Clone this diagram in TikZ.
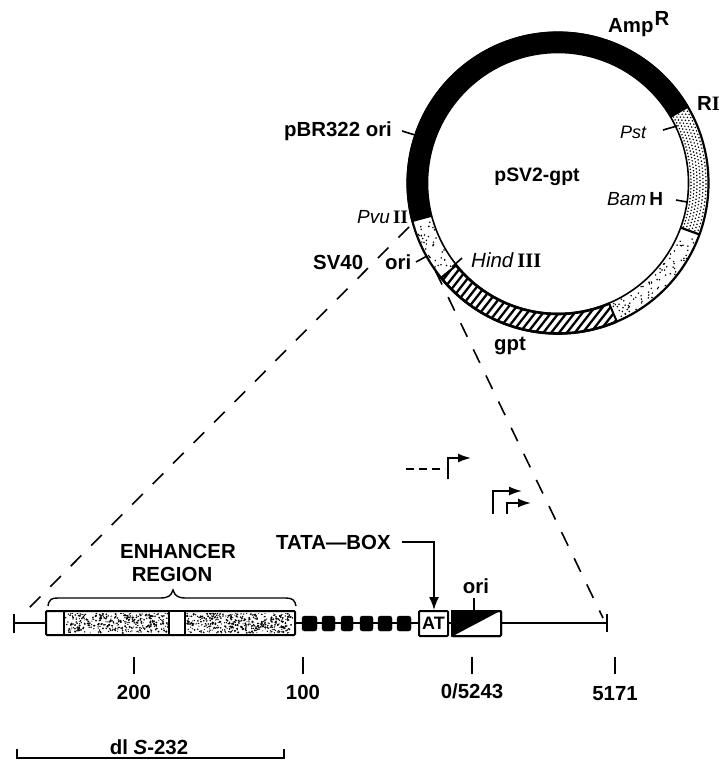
\documentclass[tikz,border=0pt]{standalone}
\usepackage{fontspec}
\setmainfont{Liberation Sans}
\newfontfamily\serf{Liberation Serif}
\usetikzlibrary{arrows.meta}
\tikzset{
  lab/.style={font=\bfseries\fontsize{20.4}{23}\selectfont,inner sep=0pt,text=black,align=center},
  ital/.style={font=\itshape\fontsize{18}{21}\selectfont,inner sep=0pt},
  tick/.style={line width=1.6pt},
  axis/.style={line width=1.8pt},
  dashline/.style={line width=1.6pt,dash pattern=on 15pt off 14pt},
  pbox/.style={draw,line width=2pt,fill=white,rounded corners=1pt},
  block/.style={fill=black,draw=black,rounded corners=2.5pt},
  promo/.style={line width=1.7pt,-{Latex[length=13pt,width=9pt]}}
}
\def\CX{558}\def\CY{183}
\newcommand{\secpath}[4]{plot[variable=\t,domain=#1:#2,samples=90] ({\CX+#4*cos(\t)},{\CY-#4*sin(\t)}) -- plot[variable=\t,domain=#2:#1,samples=90] ({\CX+#3*cos(\t)},{\CY-#3*sin(\t)}) -- cycle}
\newcommand{\randots}[6]{% a1 a2 r1 r2 count size
  \foreach \i in {1,...,#5}{
    \pgfmathsetmacro\aa{#1+rnd*(#2-#1)}
    \pgfmathsetmacro\rr{#3+rnd*(#4-#3)}
    \fill ({\CX+\rr*cos(\aa)},{\CY-\rr*sin(\aa)}) circle (#6);
  }}
\newcommand{\boxdots}[5]{% x1 x2 y1 y2 count
  \foreach \i in {1,...,#5}{
    \pgfmathsetmacro\xa{#1+rnd*(#2-#1)}
    \pgfmathsetmacro\ya{#3+rnd*(#4-#3)}
    \pgfmathsetmacro\sz{0.5+0.6*rnd}
    \fill (\xa,\ya) circle (\sz);
  }}
\begin{document}
\begin{tikzpicture}[x=1pt,y=-1pt]
\useasboundingbox (0,0) rectangle (722,763);
\pgfmathsetseed{7}
% plasmid ring
\draw[line width=2.2pt] (\CX,\CY) circle (150.5);
\draw[line width=1.6pt] (\CX,\CY) circle (130.5);
\fill \secpath{30}{195}{130.5}{151.5};
% regular stipple
\begin{scope}
\clip \secpath{-20}{30}{132}{150};
\foreach \a [count=\k] in {-20,-18.6,...,30}{
  \foreach \r [count=\j] in {133,136,...,150}{
    \pgfmathsetmacro\ab{\a+0.7*mod(\j,2)}
    \fill ({\CX+\r*cos(\ab)},{\CY-\r*sin(\ab)}) circle (0.85);
  }}
\end{scope}
% irregular stipple
\randots{-66}{-22}{132}{149}{80}{0.85}
\randots{197}{218}{132}{149}{38}{0.85}
% hatch: parallel strokes
\begin{scope}
\clip \secpath{219}{293}{131}{151};
\foreach \k in {-30,...,30}{
  \draw[line width=2.3pt] ({510+\k*6.2*0.788-120*0.616},{325+\k*6.2*0.616+120*0.788}) -- ++({240*0.616},{-240*0.788});
}
\end{scope}
\draw[line width=2.6pt] plot[variable=\t,domain=219:293,samples=60] ({\CX+150.5*cos(\t)},{\CY-150.5*sin(\t)});
\draw[line width=2.6pt] plot[variable=\t,domain=219:293,samples=60] ({\CX+131*cos(\t)},{\CY-131*sin(\t)});
\draw[line width=2.2pt] ({\CX+131*cos(-20)},{\CY-131*sin(-20)}) -- ({\CX+151*cos(-20)},{\CY-151*sin(-20)});
\draw[line width=2pt] ({\CX+131*cos(-67)},{\CY-131*sin(-67)}) -- ({\CX+151*cos(-67)},{\CY-151*sin(-67)});
\draw[line width=2pt] ({\CX+131*cos(219)},{\CY-131*sin(219)}) -- ({\CX+151*cos(219)},{\CY-151*sin(219)});

% plasmid labels
\node[lab,anchor=base west] (amp) at (608,32) {Amp\kern1pt\raisebox{7pt}{R}};
\node[lab,anchor=base west] (ri) at (697,110) {R{\serf I}};
\node[ital,anchor=base west] (pst) at (620,138) {Pst};
\node[lab,font=\bfseries\fontsize{19.4}{22}\selectfont] (psv) at (537,177) {pSV2-gpt};
\node[anchor=base west,inner sep=0pt,font=\fontsize{19}{21}\selectfont] (bam) at (607,205) {\textit{Bam}\,\textbf{H}};
\node[anchor=base west,inner sep=0pt,font=\fontsize{20.5}{21}\selectfont] (hind) at (471,267) {\textit{Hind}\,{\serf\bfseries III}};
\node[anchor=base west,inner sep=0pt,font=\fontsize{19}{21}\selectfont] (pvu) at (357,223) {\textit{Pvu}\,{\serf\bfseries II}};
\node[lab,anchor=base west] (pbr) at (284,136) {pBR322 ori};
\node[lab,anchor=base west] (sv40) at (313,269) {SV40};
\node[lab,anchor=base west] (ori1) at (385,269) {ori};
\node[lab] (gpt) at (510,346) {gpt};
\coordinate (tp1) at (663,130); \coordinate (tp2) at (677,126);
\coordinate (tb1) at (676,200); \coordinate (tb2) at (687,202);
\coordinate (th1) at (452,267); \coordinate (th2) at (462,258);
\coordinate (to1) at (416,262); \coordinate (to2) at (427,256);
\coordinate (tr1) at (402,131); \coordinate (tr2) at (415,135);
\draw[tick] (tp1)--(tp2); \draw[tick] (tb1)--(tb2); \draw[tick] (th1)--(th2);
\draw[tick] (to1)--(to2); \draw[tick] (tr1)--(tr2);

% map
\coordinate (mapL) at (14,623); \coordinate (mapR) at (607,623);
\coordinate (mapLt) at (14,614); \coordinate (mapLb) at (14,633);
\coordinate (mapRt) at (607,614); \coordinate (mapRb) at (607,632);
\draw[axis] (mapL)--(mapR);
\draw[axis] (mapLt)--(mapLb); \draw[axis] (mapRt)--(mapRb);
% enhancer
\draw[pbox] (46,611) rectangle (295,635);
\begin{scope}
\clip (65,613) rectangle (293,633);
\boxdots{65}{168}{613}{633}{370}
\boxdots{186}{293}{613}{633}{430}
\end{scope}
\draw[line width=2pt] (63.5,611) -- (63.5,635);
\draw[line width=2pt] (169,611) -- (169,635);
\draw[line width=2pt] (185,611) -- (185,635);
\fill[white] (170,612) rectangle (184,634);
% blocks
\foreach \xa/\xb in {302/317,322/335,341/353,360/373,378/392,397/411}{
  \draw[block] (\xa,616) rectangle (\xb,631);
}
\node[pbox,minimum width=29pt,minimum height=25pt,inner sep=0pt,font=\bfseries\fontsize{18}{19}\selectfont] (at) at (433.5,623.5) {AT};
\node[pbox,minimum width=49pt,minimum height=25pt,inner sep=0pt] (orb) at (476.5,623.5) {};
\fill (orb.north west) -- (orb.north east) -- (orb.south west) -- cycle;
\node[pbox,fill=none,minimum width=49pt,minimum height=25pt,inner sep=0pt] at (476.5,623.5) {};
\node[lab] (orilab) at (476,586) {ori};
\draw[tick] (orb.north -| 474,0) -- (474,598);
% brace
\draw[line width=1.4pt] (48,606) .. controls (49,599) and (52,598) .. (58,598) -- (160,598) .. controls (168,598) and (171,596) .. (173,590) .. controls (175,596) and (178,598) .. (186,598) -- (286,598) .. controls (292,598) and (295,600) .. (296,606);
\node[lab] (enh) at (178,551) {ENHANCER};
\node[lab] (reg) at (172,574) {REGION};
% TATA
\node[lab,anchor=base west] (tata) at (276,549) {TATA---BOX};
\coordinate (bend) at (434,542);
\draw[line width=1.7pt,-{Latex[length=13pt,width=10pt]}] (402,542) -- (bend) -- (at.north -| bend);
% promoters
\coordinate (d1) at (406,469); \coordinate (d2) at (445,469);
\draw[line width=1.5pt,dash pattern=on 8pt off 5pt] (d1)--(d2);
\coordinate (p1) at (448,479); \coordinate (p1b) at (448,458); \coordinate (p1e) at (471,458);
\coordinate (p2) at (493,514); \coordinate (p2b) at (493,491); \coordinate (p2e) at (522,491);
\coordinate (p3) at (507,514); \coordinate (p3b) at (507,503); \coordinate (p3e) at (531,503);
\draw[promo] (p1)--(p1b)--(p1e);
\draw[promo] (p2)--(p2b)--(p2e);
\draw[promo] (p3)--(p3b)--(p3e);
% dashed projection
\coordinate (da) at (409,227); \coordinate (db) at (22,615);
\coordinate (dc) at (435.5,271); \coordinate (dd) at (603,618);
\draw[dashline] (da)--(db);
\draw[dashline] (dc)--(dd);
% ticks and numbers
\foreach \n/\x/\lbl/\y in {a/134/200/692,b/303/100/692,c/472/0\slash 5243/691,d/615/5171/694}{
  \coordinate (t\n) at (\x,657); \coordinate (u\n) at (\x,674);
  \draw[tick] (t\n)--(u\n);
  \node[lab] (n\n) at (\x,\y) {\lbl};
}
% deletion
\coordinate (dl1) at (17,758); \coordinate (dl2) at (284,758);
\coordinate (dl1a) at (17,749); \coordinate (dl1b) at (17,759);
\coordinate (dl2a) at (284,749); \coordinate (dl2b) at (284,759);
\draw[axis] (dl1)--(dl2); \draw[axis] (dl1a)--(dl1b); \draw[axis] (dl2a)--(dl2b);
\node[lab] (dl) at (149,747) {dl \textit{S}-232};
\end{tikzpicture}
\end{document}
